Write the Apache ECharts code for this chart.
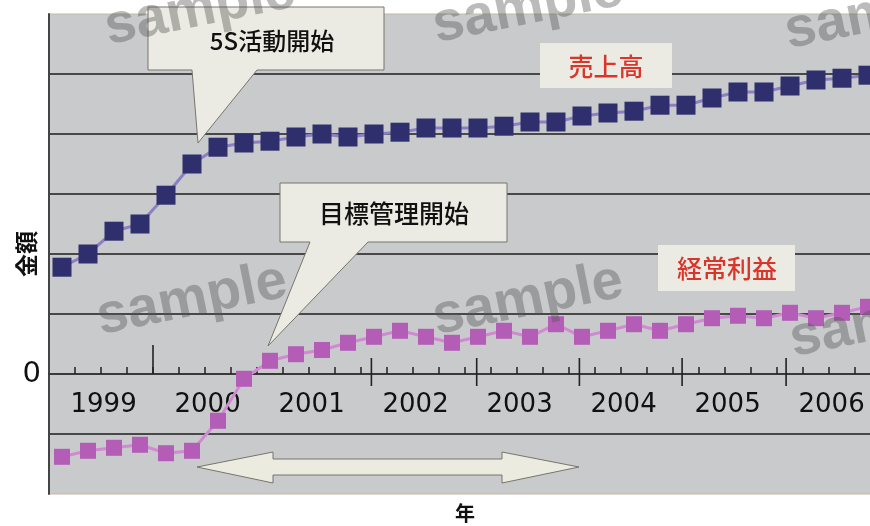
<!DOCTYPE html>
<html><head><meta charset="utf-8">
<script src="https://cdn.jsdelivr.net/npm/echarts@6/dist/echarts.min.js"></script>
<style>html,body{margin:0;padding:0;background:#fff}#c{width:870px;height:526px}</style>
</head><body><div id="c"></div>
<script>
// ---- data ----
const years = ['1999','2000','2001','2002','2003','2004','2005','2006'];
const quarters = [];
years.forEach(y => { for (let q = 1; q <= 4; q++) quarters.push(y + 'Q' + q); });
const salesName = '売上高';
const profitName = '経常利益';
const sales = [1.78, 2.0, 2.38, 2.5, 2.98, 3.5, 3.78, 3.85, 3.88, 3.95, 4.0, 3.95, 4.0, 4.03, 4.1, 4.1,
               4.1, 4.13, 4.2, 4.2, 4.3, 4.35, 4.38, 4.48, 4.48, 4.6, 4.7, 4.7, 4.8, 4.9, 4.93, 4.98];
const profit = [-1.38, -1.28, -1.23, -1.18, -1.32, -1.28, -0.78, -0.08, 0.22, 0.33, 0.4, 0.52, 0.62, 0.72, 0.62, 0.52,
                0.62, 0.72, 0.62, 0.83, 0.62, 0.72, 0.83, 0.72, 0.83, 0.93, 0.97, 0.93, 1.02, 0.93, 1.02, 1.12];
const yTickLabels = ['0'];
const majorTicks = [3.5, 11.9, 15.95, 19.9, 23.85, 27.85];
const xAxisTitle = '年';
const yAxisTitle = '金額';
const note1 = '5S活動開始';
const note2 = '目標管理開始';

// ---- chart ----
const chart = echarts.init(document.getElementById('c'), null, {renderer: 'canvas'});
const n = quarters.length;
const boundaries = [];
for (let i = 0; i < n - 1; i++) boundaries.push(i + 0.5);
const yearCenters = years.map((y, k) => 4 * k + 1.6);

const boxFill = '#ecebe3';
const boxStroke = '#77756c';
const wm = (x, y) => ({type: 'text', x, y, rotation: 0.2, z: 50, silent: true,
  style: {text: 'sample', font: 'bold 56px "Liberation Sans", sans-serif', fill: 'rgba(85,85,85,0.40)', align: 'center', verticalAlign: 'middle'}});

chart.setOption({
  animation: false,
  backgroundColor: '#ffffff',
  grid: {left: 49, right: -11, top: 14, bottom: 32, containLabel: false, outerBoundsMode: 'none',
         show: true, backgroundColor: '#c9cacc', borderColor: '#c2b9a4', borderWidth: 1},
  xAxis: {
    type: 'value', min: -0.5, max: n - 0.5,
    name: xAxisTitle, nameLocation: 'middle', nameGap: 9, nameMoveOverlap: false,
    nameTextStyle: {fontSize: 20, fontWeight: 'bold', color: '#111', fontFamily: '"Noto Sans CJK JP"'},
    axisLine: {onZero: true, lineStyle: {color: '#3a3a3a', width: 2}},
    axisTick: {show: true, inside: true, length: 7, customValues: boundaries, lineStyle: {color: '#222', width: 1.5}},
    axisLabel: {customValues: yearCenters, margin: -102, fontSize: 26, color: '#111', fontFamily: '"DejaVu Sans"',
      formatter: v => years[Math.round((v - 1.6) / 4)] || ''},
    splitLine: {show: false}
  },
  yAxis: {
    type: 'value', min: -2, max: 6, interval: 1,
    name: yAxisTitle, nameLocation: 'middle', nameRotate: 90, nameGap: 11, nameMoveOverlap: false,
    nameTextStyle: {fontSize: 23, fontWeight: 'bold', color: '#111', fontFamily: '"Noto Sans CJK JP"'},
    axisLine: {show: true, onZero: false, lineStyle: {color: '#444', width: 2}},
    axisTick: {show: false},
    axisLabel: {margin: 8, fontSize: 29, color: '#111', fontFamily: '"DejaVu Sans"',
      formatter: v => (v === 0 ? yTickLabels[0] : '')},
    splitLine: {show: true, showMinLine: false, showMaxLine: false, lineStyle: {color: '#1c1c1c', width: 1.5}}
  },
  series: [
    {name: salesName, type: 'line', data: sales.map((v, i) => [i, v]), symbol: 'rect', symbolSize: 19,
     itemStyle: {color: '#2f2f6d'}, lineStyle: {color: '#8c80c4', width: 3}, z: 3},
    {name: profitName, type: 'line', data: profit.map((v, i) => [i, v]), symbol: 'rect', symbolSize: 16,
     itemStyle: {color: '#b35db6'}, lineStyle: {color: '#d089d2', width: 3}, z: 3},
    {type: 'custom', data: majorTicks.map(v => [v, 0]), z: 4, silent: true,
     renderItem: (params, api) => {
       const p = api.coord([api.value(0), 0]);
       const first = params.dataIndex === 0;
       return {type: 'line', shape: {x1: p[0], y1: p[1] - (first ? 29 : 16), x2: p[0], y2: p[1] + (first ? 0 : 12)},
               style: {stroke: '#222', lineWidth: 1.6}};
     }}
  ],
  graphic: [
    {type: 'polygon', z: 1, silent: true,
     shape: {points: [[197,467],[273,452],[273,459],[502,459],[502,452],[579,467],[502,483],[502,475],[273,475],[273,483]]},
     style: {fill: '#ecebe0', stroke: '#77756c', lineWidth: 1}},
    {type: 'polygon', z: 10, silent: true,
     shape: {points: [[148,7],[384,7],[384,70],[257,70],[198,143],[192,70],[148,70]]},
     style: {fill: boxFill, stroke: boxStroke, lineWidth: 1}},
    {type: 'text', z: 11, x: 272, y: 41, silent: true,
     style: {text: note1, font: '500 24px "Noto Sans CJK JP"', fill: '#111', align: 'center', verticalAlign: 'middle'}},
    {type: 'polygon', z: 10, silent: true,
     shape: {points: [[280,183],[507,183],[507,242],[368,242],[268,346],[310,242],[280,242]]},
     style: {fill: boxFill, stroke: boxStroke, lineWidth: 1}},
    {type: 'text', z: 11, x: 394, y: 213, silent: true,
     style: {text: note2, font: '500 25px "Noto Sans CJK JP"', fill: '#111', align: 'center', verticalAlign: 'middle'}},
    {type: 'rect', z: 10, silent: true, shape: {x: 540, y: 43, width: 132, height: 45}, style: {fill: boxFill}},
    {type: 'text', z: 11, x: 606, y: 66, silent: true,
     style: {text: salesName, font: '500 25px "Noto Sans CJK JP"', fill: '#d8352b', align: 'center', verticalAlign: 'middle'}},
    {type: 'rect', z: 10, silent: true, shape: {x: 658, y: 245, width: 137, height: 46}, style: {fill: boxFill}},
    {type: 'text', z: 11, x: 727, y: 268, silent: true,
     style: {text: profitName, font: '500 25px "Noto Sans CJK JP"', fill: '#d8352b', align: 'center', verticalAlign: 'middle'}},
    wm(200, 10), wm(528, 8), wm(880, 14), wm(192, 300), wm(528, 300), wm(885, 322)
  ]
});
</script></body></html>
